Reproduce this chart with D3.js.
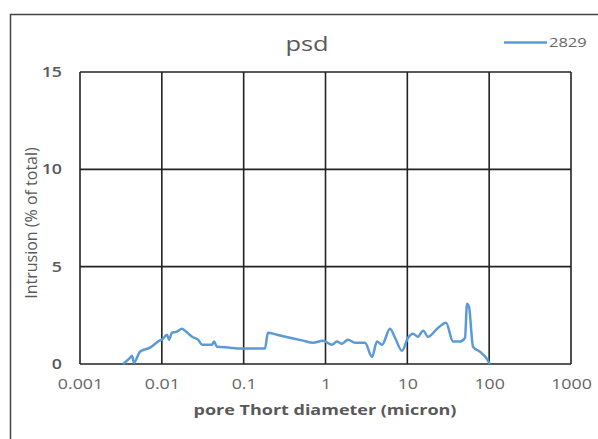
<!DOCTYPE html>
<html><head><meta charset="utf-8">
<script src="https://cdn.jsdelivr.net/npm/d3@7"></script>
<style>body{margin:0;background:#fff}svg{display:block}text{font-family:"Open Sans",sans-serif}</style>
</head><body><svg id="c" width="598" height="439"></svg>
<script>
const diameters = [0.00336,0.00408,0.00432,0.00457,0.0054,0.00716,0.00897,0.0103,0.01156,0.01224,0.0133,0.0153,0.0176,0.0192,0.0234,0.0277,0.031,0.041,0.0434,0.0472,0.068,0.090,0.182,0.198,0.255,0.368,0.531,0.703,0.933,1.20,1.38,1.59,1.88,2.30,3.04,3.70,4.26,4.91,6.14,7.07,8.60,10.2,11.7,13.5,15.6,17.9,23.1,29.7,36.2,44.0,50.7,53.6,56.7,63.5,77.3,91.6,102];
const intrusion = [0,0.32,0.43,0.07,0.63,0.84,1.15,1.30,1.50,1.25,1.61,1.66,1.81,1.71,1.40,1.25,0.99,0.99,1.15,0.89,0.84,0.79,0.79,1.61,1.50,1.35,1.20,1.09,1.20,0.99,1.15,1.04,1.25,1.09,1.09,0.37,1.15,0.99,1.81,1.35,0.68,1.35,1.56,1.40,1.71,1.40,1.81,2.12,1.15,1.15,1.35,3.1,2.94,0.89,0.63,0.32,0];
const xTicks = [0.001,0.01,0.1,1,10,100,1000];
const xTickLabels = ["0.001","0.01","0.1","1","10","100","1000"];
const yTicks = [0,5,10,15];
const seriesName = "2829";

const SX = 1.27; // horizontal stretch of the reference text
const svg = d3.select("#c");
const L=80,R=571,T=72,B=364;
const x = d3.scaleLog().domain([0.001,1000]).range([L,R]);
const y = d3.scaleLinear().domain([0,15]).range([B,T]);

// outer chart border
svg.append("rect").attr("x",10.5).attr("y",14.5).attr("width",600).attr("height",440)
  .attr("fill","#fff").attr("stroke","#444").attr("stroke-width",1.5);

// grid
const g = svg.append("g");
g.selectAll(".vx").data(xTicks).join("line")
  .attr("x1",d=>x(d)).attr("x2",d=>x(d)).attr("y1",T).attr("y2",B)
  .attr("stroke","#222").attr("stroke-width",1.6);
g.selectAll(".hy").data(yTicks).join("line")
  .attr("x1",L).attr("x2",R).attr("y1",d=>y(d)).attr("y2",d=>y(d))
  .attr("stroke","#222").attr("stroke-width",1.6);

// axes labels
const xa = d3.axisBottom(x).tickValues(xTicks).tickFormat((d,i)=>xTickLabels[i]).tickSize(0).tickPadding(15);
const xg = svg.append("g").attr("transform",`translate(0,${B})`).call(xa);
xg.select(".domain").remove();
xg.selectAll("text").attr("fill","#666").style("font-size","14px").attr("transform",`scale(${SX},1)`);
const ya = d3.axisLeft(y).tickValues(yTicks).tickSize(0).tickPadding(0);
const yg = svg.append("g").attr("transform",`translate(${L-18},0)`).call(ya);
yg.select(".domain").remove();
yg.selectAll("text").attr("x",0).attr("fill","#595959").style("font-size","14px").style("font-weight","600").attr("transform",`scale(${SX},1)`);

// line
const line = d3.line().x((d,i)=>x(diameters[i])).y(d=>y(d)).curve(d3.curveMonotoneX);
svg.append("path").datum(intrusion).attr("d",line).attr("fill","none")
  .attr("stroke","#5B9BD5").attr("stroke-width",2.5).attr("stroke-linejoin","round");

// title
svg.append("text").attr("transform",`translate(307,51) scale(${SX},1)`).attr("text-anchor","middle")
  .attr("fill","#595959").style("font-size","20px").text("psd");
// legend
svg.append("line").attr("x1",504).attr("x2",547).attr("y1",42.5).attr("y2",42.5)
  .attr("stroke","#5B9BD5").attr("stroke-width",2.5);
svg.append("text").attr("transform",`translate(549,47) scale(${SX},1)`).attr("fill","#666").style("font-size","13px").text(seriesName);

// axis titles
svg.append("text").attr("transform",`translate(325,415) scale(1.2,1)`).attr("text-anchor","middle")
  .attr("fill","#595959").style("font-size","15px").style("font-weight","700")
  .text("pore Thort diameter (micron)");
svg.append("text").attr("transform","translate(37,223) rotate(-90)").attr("text-anchor","middle")
  .attr("fill","#595959").style("font-size","16px").text("Intrusion (% of total)");
</script></body></html>
